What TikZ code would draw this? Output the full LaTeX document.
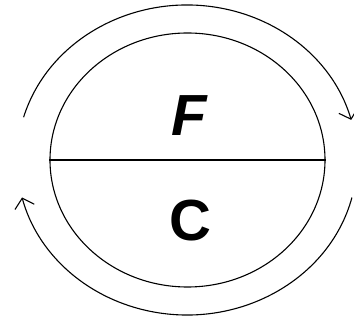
\documentclass[tikz,border=0pt]{standalone}
\usepackage{fontspec}
\setmainfont{Liberation Sans}
\usetikzlibrary{arrows.meta,shapes.geometric,calc}

\begin{document}
\begin{tikzpicture}[
  x=1pt,y=1pt,
  line/.style={line width=1.1pt},
  letter/.style={font=\fontsize{58}{58}\selectfont\bfseries},
  flow/.style={line,-{Straight Barb[length=9pt,width=20pt]}},
]
  \useasboundingbox (-187.5,-160) rectangle (166.5,160);
  \node[draw,line,ellipse,minimum width=275,minimum height=254,inner sep=0] (cell) at (0,0) {};
  \draw[line] (cell.west) -- (cell.east);
  \node[letter] (fpart) at (1.5,44) {\itshape F};
  \node[letter] (cpart) at (2.5,-61) {C};

  % outer cycle
  \coordinate (center) at (-0.5,0);
  \coordinate (topstart) at ($(center)+(164:170 and 155)$);
  \coordinate (botstart) at ($(center)+(-14:170 and 155)$);
  \draw[flow] (topstart) arc[start angle=164,end angle=15,x radius=170,y radius=155];
  \draw[flow] (botstart) arc[start angle=-14,end angle=-166,x radius=170,y radius=155];
\end{tikzpicture}
\end{document}
